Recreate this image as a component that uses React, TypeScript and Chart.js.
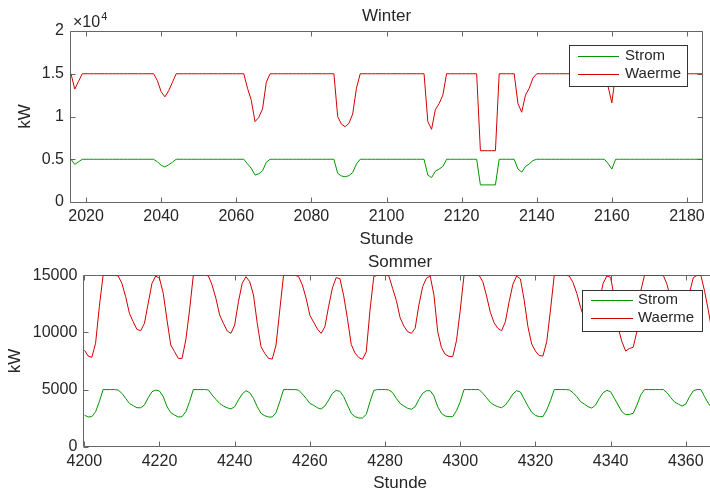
import React, { useEffect, useRef } from 'react';
import { Chart, registerables } from 'chart.js';

Chart.register(...registerables);

const FONT = "'Liberation Sans', Arial, Helvetica, sans-serif";
const TEXT_COLOR = '#262626';
const AXIS_COLOR = '#666666';

const seriesLabels = ['Strom', 'Waerme'];
const seriesColors = ['rgb(0,150,0)', 'rgb(210,0,0)'];

// ---------------- Winter (hours 2016 .. 2184) ----------------
const winterTitle = 'Winter';
const winterStart = 2016;
const winterStrom = [
  5000, 4400, 4700, 5000, 5000, 5000, 5000, 5000, 5000, 5000,
  5000, 5000, 5000, 5000, 5000, 5000, 5000, 5000, 5000, 5000,
  5000, 5000, 5000, 4700, 4300, 4100, 4350, 4650, 5000, 5000,
  5000, 5000, 5000, 5000, 5000, 5000, 5000, 5000, 5000, 5000,
  5000, 5000, 5000, 5000, 5000, 5000, 5000, 4450, 3950, 3150,
  3300, 3650, 4650, 5000, 5000, 5000, 5000, 5000, 5000, 5000,
  5000, 5000, 5000, 5000, 5000, 5000, 5000, 5000, 5000, 5000,
  5000, 3350, 3050, 2950, 3080, 3450, 4450, 5000, 5000, 5000,
  5000, 5000, 5000, 5000, 5000, 5000, 5000, 5000, 5000, 5000,
  5000, 5000, 5000, 5000, 5000, 3150, 2850, 3600, 3850, 4150,
  5000, 5000, 5000, 5000, 5000, 5000, 5000, 5000, 5000, 2000,
  2000, 2000, 2000, 2000, 5000, 5000, 5000, 5000, 5000, 3850,
  3500, 4150, 4450, 4850, 5000, 5000, 5000, 5000, 5000, 5000,
  5000, 5000, 5000, 5000, 5000, 5000, 5000, 5000, 5000, 5000,
  5000, 5000, 5000, 4500, 3850, 5000, 5000, 5000, 5000, 5000,
  5000, 5000, 5000, 5000, 5000, 5000, 5000, 5000, 5000, 5000,
  5000, 5000, 5000, 5000, 5000, 5000, 5000, 5000, 5000,
];
const winterWaerme = [
  15000, 13200, 14100, 15000, 15000, 15000, 15000, 15000, 15000, 15000,
  15000, 15000, 15000, 15000, 15000, 15000, 15000, 15000, 15000, 15000,
  15000, 15000, 15000, 14200, 12900, 12300, 13000, 14000, 15000, 15000,
  15000, 15000, 15000, 15000, 15000, 15000, 15000, 15000, 15000, 15000,
  15000, 15000, 15000, 15000, 15000, 15000, 15000, 13300, 11900, 9400,
  9900, 10900, 14000, 15000, 15000, 15000, 15000, 15000, 15000, 15000,
  15000, 15000, 15000, 15000, 15000, 15000, 15000, 15000, 15000, 15000,
  15000, 10000, 9100, 8800, 9200, 10300, 13300, 15000, 15000, 15000,
  15000, 15000, 15000, 15000, 15000, 15000, 15000, 15000, 15000, 15000,
  15000, 15000, 15000, 15000, 15000, 9400, 8500, 10800, 11500, 12500,
  15000, 15000, 15000, 15000, 15000, 15000, 15000, 15000, 15000, 6000,
  6000, 6000, 6000, 6000, 15000, 15000, 15000, 15000, 15000, 11500,
  10500, 12500, 13300, 14500, 15000, 15000, 15000, 15000, 15000, 15000,
  15000, 15000, 15000, 15000, 15000, 15000, 15000, 15000, 15000, 15000,
  15000, 15000, 15000, 13500, 11600, 15000, 15000, 15000, 15000, 15000,
  15000, 15000, 15000, 15000, 15000, 15000, 15000, 15000, 15000, 15000,
  15000, 15000, 15000, 15000, 15000, 15000, 15000, 15000, 15000,
];
const winterXRange = [2016, 2184];
const winterXTicks = [2020, 2040, 2060, 2080, 2100, 2120, 2140, 2160, 2180];
const winterYRange = [0, 20000];
const winterYTicks = [0, 5000, 10000, 15000, 20000];
const winterYTickLabels = ['0', '0.5', '1', '1.5', '2'];
const winterExponent = ['\u00d710', '4'];

// ---------------- Sommer (hours 4200 .. 4368) ----------------
const sommerTitle = 'Sommer';
const sommerStart = 4200;
const sommerStrom = [
  2770, 2600, 2630, 3060, 3940, 5000, 5000, 5000, 5000, 4960,
  4670, 4230, 3790, 3590, 3410, 3410, 3650, 4290, 4810, 4960,
  4870, 4380, 3500, 2980, 2770, 2600, 2630, 3060, 3940, 5000,
  5000, 5000, 5000, 4970, 4520, 4140, 3790, 3560, 3410, 3300,
  3500, 4090, 4610, 4900, 4730, 4230, 3500, 2920, 2710, 2600,
  2600, 2980, 3940, 5000, 5000, 5000, 5000, 4950, 4610, 4230,
  3790, 3620, 3410, 3300, 3560, 4090, 4670, 4930, 4840, 4380,
  3650, 2920, 2630, 2510, 2510, 2830, 3940, 4930, 5000, 5000,
  5000, 4970, 4730, 4230, 3790, 3560, 3360, 3270, 3500, 4140,
  4670, 4900, 4900, 4440, 3500, 2920, 2680, 2630, 2630, 3150,
  3940, 5000, 5000, 5000, 5000, 5000, 4670, 4290, 3880, 3650,
  3500, 3410, 3650, 4090, 4610, 4900, 4790, 4170, 3560, 3010,
  2740, 2630, 2630, 3210, 4030, 5000, 5000, 5000, 5000, 4970,
  4730, 4380, 3940, 3730, 3500, 3380, 3650, 4230, 4730, 4930,
  4810, 4230, 3650, 3060, 2800, 2830, 2920, 3650, 4520, 5000,
  5000, 5000, 5000, 5000, 5000, 4730, 4290, 3910, 3730, 3560,
  3730, 4380, 4900, 5000, 5000, 4380, 3790, 3360, 3000,
];
const sommerWaerme = [
  8460, 7940, 7820, 9050, 12260, 15000, 15000, 15000, 15000, 14950,
  14300, 13130, 11670, 10940, 10270, 10150, 10800, 12550, 14300, 14940,
  14740, 13420, 11090, 8900, 8320, 7730, 7730, 9340, 11960, 15000,
  15000, 15000, 15000, 14950, 14150, 12990, 11530, 10800, 10130, 9920,
  10650, 12690, 14300, 14880, 14440, 13280, 10800, 8750, 8170, 7730,
  7670, 8900, 11960, 15000, 15000, 15000, 15000, 14900, 14150, 13000,
  11500, 10900, 10300, 9920, 10500, 12300, 13900, 14800, 14700, 13200,
  11200, 8950, 8200, 7800, 7650, 8300, 11960, 14900, 15000, 15000,
  15000, 14950, 13860, 12800, 11290, 10560, 10070, 9920, 10360, 12400,
  14010, 14740, 14940, 13280, 10070, 8670, 8080, 7910, 7880, 9280,
  11960, 15000, 15000, 15000, 15000, 15000, 14440, 13190, 11760, 10850,
  10360, 10150, 10940, 12690, 14210, 14940, 14680, 12840, 10500, 8990,
  8370, 7970, 7940, 9190, 11960, 15000, 15000, 15000, 15000, 14940,
  14360, 13420, 12200, 11200, 10500, 10150, 10950, 12700, 14300, 14940,
  14820, 13000, 10400, 9190, 8370, 8600, 8700, 10100, 13600, 15000,
  15000, 15000, 15000, 15000, 15000, 14200, 12900, 11700, 11200, 10700,
  11200, 13500, 14800, 15000, 15000, 13600, 11900, 10000, 9000,
];
const sommerXRange = [4200, 4368];
const sommerXTicks = [4200, 4220, 4240, 4260, 4280, 4300, 4320, 4340, 4360];
const sommerYRange = [0, 15000];
const sommerYTicks = [0, 5000, 10000, 15000];
const sommerYTickLabels = ['0', '5000', '10000', '15000'];

const xAxisTitle = 'Stunde';
const yAxisTitle = 'kW';

const matlabPlugin = {
  id: 'matlab',
  beforeDatasetsDraw(chart: any) {
    const { ctx, chartArea: a, scales } = chart;
    ctx.save();
    ctx.strokeStyle = AXIS_COLOR;
    ctx.lineWidth = 1;
    const L = Math.floor(a.left) - 0.5;
    const R = Math.floor(a.right) + 0.5;
    const T = Math.floor(a.top) + 0.5;
    const B = Math.floor(a.bottom) + 0.5;
    ctx.beginPath();
    ctx.rect(L, T, R - L, B - T);
    const xs = scales.x;
    const ys = scales.y;
    const tl = 5;
    xs.ticks.forEach((t: any) => {
      const p = Math.round(xs.getPixelForValue(t.value)) + 0.5;
      ctx.moveTo(p, B);
      ctx.lineTo(p, B - tl);
      ctx.moveTo(p, T);
      ctx.lineTo(p, T + tl);
    });
    ys.ticks.forEach((t: any) => {
      const p = Math.round(ys.getPixelForValue(t.value)) + 0.5;
      ctx.moveTo(L, p);
      ctx.lineTo(L + tl, p);
      ctx.moveTo(R, p);
      ctx.lineTo(R - tl, p);
    });
    ctx.stroke();
    ctx.restore();
  },
  afterDatasetsDraw(chart: any, _args: any, opts: any) {
    const { ctx, chartArea: a } = chart;
    ctx.save();
    ctx.fillStyle = TEXT_COLOR;
    ctx.font = `17px ${FONT}`;
    ctx.textAlign = 'center';
    ctx.textBaseline = 'middle';
    ctx.fillText(opts.title, (a.left + a.right) / 2, opts.titleY);
    if (opts.exponent) {
      ctx.textAlign = 'left';
      ctx.textBaseline = 'alphabetic';
      ctx.font = `16px ${FONT}`;
      const bx = a.left + 2;
      ctx.fillText(opts.exponent[0], bx, a.top - 4);
      const w = ctx.measureText(opts.exponent[0]).width;
      ctx.font = `11px ${FONT}`;
      ctx.fillText(opts.exponent[1], bx + w + 1, a.top - 11);
    }
    const lg = opts.legend;
    ctx.fillStyle = '#ffffff';
    ctx.fillRect(lg.x, lg.y, lg.w, lg.h);
    ctx.lineWidth = 1;
    ctx.strokeStyle = '#333333';
    ctx.strokeRect(lg.x + 0.5, lg.y + 0.5, lg.w, lg.h);
    for (let i = 0; i < seriesLabels.length; i++) {
      const y = lg.rows[i];
      ctx.beginPath();
      ctx.strokeStyle = seriesColors[i];
      ctx.lineWidth = 1;
      ctx.moveTo(lg.lineX0, y + 0.5);
      ctx.lineTo(lg.lineX1, y + 0.5);
      ctx.stroke();
      ctx.fillStyle = TEXT_COLOR;
      ctx.font = `15px ${FONT}`;
      ctx.textAlign = 'left';
      ctx.textBaseline = 'middle';
      ctx.fillText(seriesLabels[i], lg.textX, y);
    }
    ctx.restore();
  },
};

function buildConfig(p: any) {
  const mk = (vals: number[]) => vals.map((v, i) => ({ x: p.start + i, y: v }));
  return {
    type: 'line',
    data: {
      datasets: [
        { label: seriesLabels[0], data: mk(p.strom), borderColor: seriesColors[0], borderWidth: 1, pointRadius: 0, tension: 0, fill: false },
        { label: seriesLabels[1], data: mk(p.waerme), borderColor: seriesColors[1], borderWidth: 1, pointRadius: 0, tension: 0, fill: false },
      ],
    },
    options: {
      responsive: false,
      animation: false,
      devicePixelRatio: 1,
      events: [],
      layout: { padding: { left: 0, right: p.padRight, top: p.padTop, bottom: 0 } },
      plugins: {
        legend: { display: false },
        tooltip: { enabled: false },
        title: { display: false },
        matlab: p.plug,
      },
      scales: {
        x: {
          type: 'linear',
          min: p.xRange[0],
          max: p.xRange[1],
          grid: { display: false, drawTicks: false },
          border: { display: false },
          afterBuildTicks: (s: any) => { s.ticks = p.xTicks.map((v: number) => ({ value: v })); },
          afterFit: (s: any) => { s.height = p.xHeight; },
          ticks: {
            color: TEXT_COLOR,
            font: { family: FONT, size: 16 },
            padding: 5,
            maxRotation: 0,
            autoSkip: false,
            callback: (v: any) => String(v),
          },
          title: {
            display: true,
            text: xAxisTitle,
            color: TEXT_COLOR,
            font: { family: FONT, size: 17 },
            padding: { top: 0, bottom: p.xTitlePad },
          },
        },
        y: {
          type: 'linear',
          min: p.yRange[0],
          max: p.yRange[1],
          grid: { display: false, drawTicks: false },
          border: { display: false },
          afterBuildTicks: (s: any) => { s.ticks = p.yTicks.map((v: number) => ({ value: v })); },
          afterFit: (s: any) => { s.width = p.yWidth; },
          ticks: {
            color: TEXT_COLOR,
            font: { family: FONT, size: 16 },
            padding: 7,
            autoSkip: false,
            callback: (_v: any, i: number) => p.yLabels[i],
          },
          title: {
            display: true,
            text: yAxisTitle,
            color: TEXT_COLOR,
            font: { family: FONT, size: 17 },
            padding: { top: p.yTitlePad, bottom: 0 },
          },
        },
      },
    },
    plugins: [matlabPlugin],
  } as any;
}

export default function App() {
  const topRef = useRef<HTMLCanvasElement>(null);
  const botRef = useRef<HTMLCanvasElement>(null);

  useEffect(() => {
    const c1 = new Chart(topRef.current as HTMLCanvasElement, buildConfig({
      start: winterStart, strom: winterStrom, waerme: winterWaerme,
      xRange: winterXRange, xTicks: winterXTicks,
      yRange: winterYRange, yTicks: winterYTicks, yLabels: winterYTickLabels,
      padRight: 8, padTop: 31, xHeight: 53, yWidth: 71,
      xTitlePad: 5.5, yTitlePad: 15.3,
      plug: {
        title: winterTitle, titleY: 16, exponent: winterExponent,
        legend: { x: 569, y: 45, w: 118, h: 41, lineX0: 578, lineX1: 619, textX: 625, rows: [56, 74] },
      },
    }));
    const c2 = new Chart(botRef.current as HTMLCanvasElement, buildConfig({
      start: sommerStart, strom: sommerStrom, waerme: sommerWaerme,
      xRange: sommerXRange, xTicks: sommerXTicks,
      yRange: sommerYRange, yTicks: sommerYTicks, yLabels: sommerYTickLabels,
      padRight: 6.1, padTop: 25.3, xHeight: 48.3, yWidth: 84.3,
      xTitlePad: 1.8, yTitlePad: 5.5,
      plug: {
        title: sommerTitle, titleY: 12, exponent: null,
        legend: { x: 582, y: 40, w: 120, h: 41, lineX0: 591, lineX1: 633, textX: 638, rows: [50, 68] },
      },
    }));
    return () => { c1.destroy(); c2.destroy(); };
  }, []);

  return (
    <div style={{ position: 'fixed', left: 0, top: 0, width: 710, height: 495, overflow: 'hidden', background: '#ffffff' }}>
      <canvas ref={topRef} width={710} height={255} style={{ position: 'absolute', left: 0, top: 0, width: 710, height: 255 }} />
      <canvas ref={botRef} width={722} height={245} style={{ position: 'absolute', left: 0, top: 250, width: 722, height: 245 }} />
    </div>
  );
}
